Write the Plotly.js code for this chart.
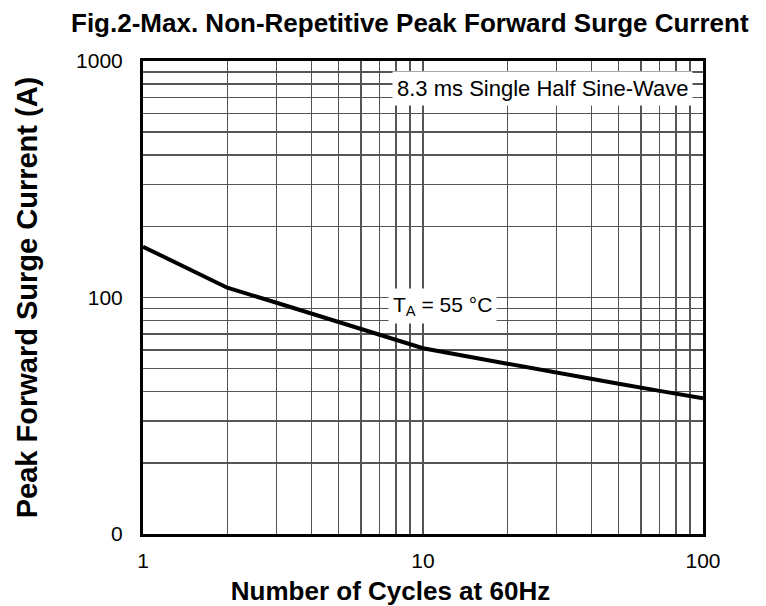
<!DOCTYPE html>
<html>
<head>
<meta charset="utf-8">
<script src="https://cdn.plot.ly/plotly-3.0.1.min.js"></script>
<style>html,body{margin:0;padding:0;background:#fff;}#chart{width:766px;height:606px;}</style>
</head>
<body>
<div id="chart"></div>
<script>
// Data
const cycles = [1, 2, 3, 4, 5, 6, 8, 10, 20, 30, 40, 50, 70, 100];
const surgeCurrent = [164, 110, 95, 85.5, 79, 74, 66.5, 61, 52.5, 48, 45.2, 43.2, 40.3, 37.5];

// Axis ticks / grid definitions
const xTickVals = [1, 10, 100];
const xTickText = ["1", "10", "100"];
const xMinorVals = [2, 3, 4, 5, 6, 7, 8, 9, 20, 30, 40, 50, 60, 70, 80, 90];
const yTickVals = [10, 100, 1000];
const yTickText = ["0", "100", "1000"];
const yMinorVals = [20, 30, 40, 50, 60, 70, 80, 90, 200, 300, 400, 500, 600, 700, 800, 900];

const FONT = "Liberation Sans, Arial, Helvetica, sans-serif";
const GRID = "#555";

const trace = {
  x: cycles,
  y: surgeCurrent,
  type: "scatter",
  mode: "lines",
  line: {color: "#000", width: 4},
  hoverinfo: "skip",
  showlegend: false
};

const layout = {
  width: 766,
  height: 606,
  margin: {l: 143, r: 63, t: 61, b: 72, pad: 0},
  paper_bgcolor: "#fff",
  plot_bgcolor: "#fff",
  font: {family: FONT, color: "#000", size: 21},
  title: {
    text: "<b>Fig.2-Max. Non-Repetitive Peak Forward Surge Current</b>",
    font: {family: FONT, size: 26, color: "#000"},
    x: 0.535, xanchor: "center", xref: "container",
    y: 0.962, yanchor: "middle", yref: "container"
  },
  xaxis: {
    type: "log",
    range: [0, 2],
    tickmode: "array",
    tickvals: xTickVals,
    ticktext: xTickText,
    ticks: "",
    ticklabelstandoff: 6,
    showgrid: true,
    gridcolor: GRID,
    gridwidth: 1.4,
    minor: {tickmode: "array", tickvals: xMinorVals, ticks: "", showgrid: true, gridcolor: GRID, gridwidth: 1.4},
    showline: true,
    linecolor: "#000",
    linewidth: 3,
    mirror: true,
    zeroline: false,
    tickfont: {family: FONT, size: 21, color: "#000"},
    title: {
      text: "<b>Number of Cycles at 60Hz</b>" + "&nbsp;".repeat(9),
      font: {family: FONT, size: 26, color: "#000"},
      standoff: 12
    },
    automargin: false
  },
  yaxis: {
    type: "log",
    range: [1, 3],
    tickmode: "array",
    tickvals: yTickVals,
    ticktext: yTickText,
    ticks: "",
    ticklabelstandoff: 13,
    showgrid: true,
    gridcolor: GRID,
    gridwidth: 1.4,
    minor: {tickmode: "array", tickvals: yMinorVals, ticks: "", showgrid: true, gridcolor: GRID, gridwidth: 1.4},
    showline: true,
    linecolor: "#000",
    linewidth: 3,
    mirror: true,
    zeroline: false,
    tickfont: {family: FONT, size: 21, color: "#000"},
    title: {
      text: "<b>Peak Forward Surge Current (A)</b>",
      font: {family: FONT, size: 29, color: "#000"},
      standoff: 30
    },
    automargin: false
  },
  annotations: [
    {
      text: "8.3 ms Single Half Sine-Wave",
      xref: "paper", yref: "paper",
      x: 0.7125, y: 0.941, xanchor: "center", yanchor: "middle",
      showarrow: false,
      bgcolor: "#fff",
      borderpad: 4,
      font: {family: FONT, size: 22, color: "#000"}
    },
    {
      text: "T<sub>A</sub> = 55 °C",
      xref: "paper", yref: "paper",
      x: 0.534, y: 0.482, xanchor: "center", yanchor: "middle",
      showarrow: false,
      bgcolor: "#fff",
      borderpad: 4,
      font: {family: FONT, size: 21, color: "#000"}
    }
  ]
};

Plotly.newPlot("chart", [trace], layout, {displayModeBar: false, staticPlot: true});
</script>
</body>
</html>
